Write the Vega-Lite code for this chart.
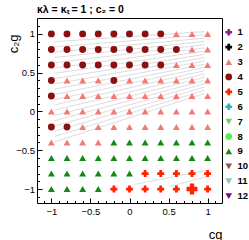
{
  "$schema": "https://vega.github.io/schema/vega-lite/v6.json",
  "width": 185,
  "height": 185,
  "autosize": {"type": "none"},
  "padding": {"left": 37, "top": 18, "right": 27, "bottom": 37},
  "background": "white",
  "title": {"text": "κλ = κₜ = 1 ; c₂ = 0", "anchor": "start", "frame": "group", "fontSize": 10.5, "fontWeight": "bold", "font": "Liberation Sans", "color": "black", "baseline": "alphabetic", "offset": -5.5},
  "datasets": {
    "hatch": [
      {"cg": -0.96, "c2g": 0.90, "cg2": 0.96, "c2g2": 1.03},
      {"cg": -0.96, "c2g": 0.832, "cg2": 0.96, "c2g2": 0.988},
      {"cg": -0.96, "c2g": 0.764, "cg2": 0.96, "c2g2": 0.946},
      {"cg": -0.96, "c2g": 0.696, "cg2": 0.96, "c2g2": 0.904},
      {"cg": -0.96, "c2g": 0.628, "cg2": 0.96, "c2g2": 0.862},
      {"cg": -0.96, "c2g": 0.56, "cg2": 0.96, "c2g2": 0.82},
      {"cg": -0.96, "c2g": 0.492, "cg2": 0.96, "c2g2": 0.778},
      {"cg": -0.96, "c2g": 0.424, "cg2": 0.96, "c2g2": 0.736},
      {"cg": -0.96, "c2g": 0.356, "cg2": 0.96, "c2g2": 0.694},
      {"cg": -0.96, "c2g": 0.288, "cg2": 0.96, "c2g2": 0.652},
      {"cg": -0.96, "c2g": 0.22, "cg2": 0.96, "c2g2": 0.61},
      {"cg": -0.96, "c2g": 0.152, "cg2": 0.96, "c2g2": 0.568},
      {"cg": -0.96, "c2g": 0.084, "cg2": 0.96, "c2g2": 0.526},
      {"cg": -0.96, "c2g": 0.016, "cg2": 0.96, "c2g2": 0.484},
      {"cg": -0.96, "c2g": -0.052, "cg2": 0.96, "c2g2": 0.442},
      {"cg": -0.96, "c2g": -0.12, "cg2": 0.96, "c2g2": 0.40},
      {"cg": -0.96, "c2g": -0.188, "cg2": 0.96, "c2g2": 0.358},
      {"cg": -0.96, "c2g": -0.256, "cg2": 0.96, "c2g2": 0.316},
      {"cg": -0.96, "c2g": -0.324, "cg2": 0.96, "c2g2": 0.274},
      {"cg": -0.96, "c2g": -0.392, "cg2": 0.96, "c2g2": 0.232},
      {"cg": 0.065, "c2g": -0.94, "cg2": 0.98, "c2g2": -0.76},
      {"cg": 0.51, "c2g": -0.97, "cg2": 0.98, "c2g2": -0.84}
    ],
    "points": [
      {"cg": -1, "c2g": 1, "cluster": "4", "benchmark": "no"},
      {"cg": -0.8, "c2g": 1, "cluster": "4", "benchmark": "no"},
      {"cg": -0.6, "c2g": 1, "cluster": "4", "benchmark": "no"},
      {"cg": -0.4, "c2g": 1, "cluster": "4", "benchmark": "no"},
      {"cg": -0.2, "c2g": 1, "cluster": "4", "benchmark": "no"},
      {"cg": 0, "c2g": 1, "cluster": "4", "benchmark": "no"},
      {"cg": 0.2, "c2g": 1, "cluster": "4", "benchmark": "no"},
      {"cg": 0.4, "c2g": 1, "cluster": "4", "benchmark": "no"},
      {"cg": 0.6, "c2g": 1, "cluster": "3", "benchmark": "no"},
      {"cg": 0.8, "c2g": 1, "cluster": "3", "benchmark": "no"},
      {"cg": 1, "c2g": 1, "cluster": "3", "benchmark": "no"},

      {"cg": -1, "c2g": 0.8, "cluster": "4", "benchmark": "no"},
      {"cg": -0.8, "c2g": 0.8, "cluster": "4", "benchmark": "no"},
      {"cg": -0.6, "c2g": 0.8, "cluster": "4", "benchmark": "no"},
      {"cg": -0.4, "c2g": 0.8, "cluster": "4", "benchmark": "no"},
      {"cg": -0.2, "c2g": 0.8, "cluster": "4", "benchmark": "no"},
      {"cg": 0, "c2g": 0.8, "cluster": "4", "benchmark": "no"},
      {"cg": 0.2, "c2g": 0.8, "cluster": "4", "benchmark": "no"},
      {"cg": 0.4, "c2g": 0.8, "cluster": "4", "benchmark": "no"},
      {"cg": 0.6, "c2g": 0.8, "cluster": "4", "benchmark": "no"},
      {"cg": 0.8, "c2g": 0.8, "cluster": "3", "benchmark": "no"},
      {"cg": 1, "c2g": 0.8, "cluster": "3", "benchmark": "no"},

      {"cg": -1, "c2g": 0.6, "cluster": "4", "benchmark": "no"},
      {"cg": -0.8, "c2g": 0.6, "cluster": "4", "benchmark": "no"},
      {"cg": -0.6, "c2g": 0.6, "cluster": "4", "benchmark": "no"},
      {"cg": -0.4, "c2g": 0.6, "cluster": "4", "benchmark": "no"},
      {"cg": -0.2, "c2g": 0.6, "cluster": "4", "benchmark": "no"},
      {"cg": 0, "c2g": 0.6, "cluster": "4", "benchmark": "no"},
      {"cg": 0.2, "c2g": 0.6, "cluster": "4", "benchmark": "no"},
      {"cg": 0.4, "c2g": 0.6, "cluster": "4", "benchmark": "no"},
      {"cg": 0.6, "c2g": 0.6, "cluster": "3", "benchmark": "no"},
      {"cg": 0.8, "c2g": 0.6, "cluster": "3", "benchmark": "no"},
      {"cg": 1, "c2g": 0.6, "cluster": "3", "benchmark": "no"},

      {"cg": -1, "c2g": 0.4, "cluster": "4", "benchmark": "no"},
      {"cg": -0.8, "c2g": 0.4, "cluster": "3", "benchmark": "no"},
      {"cg": -0.6, "c2g": 0.4, "cluster": "3", "benchmark": "no"},
      {"cg": -0.4, "c2g": 0.4, "cluster": "3", "benchmark": "no"},
      {"cg": -0.2, "c2g": 0.4, "cluster": "4", "benchmark": "no"},
      {"cg": 0, "c2g": 0.4, "cluster": "3", "benchmark": "no"},
      {"cg": 0.2, "c2g": 0.4, "cluster": "3", "benchmark": "no"},
      {"cg": 0.4, "c2g": 0.4, "cluster": "3", "benchmark": "no"},
      {"cg": 0.6, "c2g": 0.4, "cluster": "3", "benchmark": "no"},
      {"cg": 0.8, "c2g": 0.4, "cluster": "3", "benchmark": "no"},
      {"cg": 1, "c2g": 0.4, "cluster": "3", "benchmark": "no"},

      {"cg": -1, "c2g": 0.2, "cluster": "4", "benchmark": "no"},
      {"cg": -0.8, "c2g": 0.2, "cluster": "3", "benchmark": "no"},
      {"cg": -0.6, "c2g": 0.2, "cluster": "3", "benchmark": "no"},
      {"cg": -0.4, "c2g": 0.2, "cluster": "3", "benchmark": "no"},
      {"cg": -0.2, "c2g": 0.2, "cluster": "3", "benchmark": "no"},
      {"cg": 0, "c2g": 0.2, "cluster": "3", "benchmark": "no"},
      {"cg": 0.2, "c2g": 0.2, "cluster": "3", "benchmark": "no"},
      {"cg": 0.4, "c2g": 0.2, "cluster": "3", "benchmark": "no"},
      {"cg": 0.6, "c2g": 0.2, "cluster": "3", "benchmark": "no"},
      {"cg": 0.8, "c2g": 0.2, "cluster": "3", "benchmark": "no"},
      {"cg": 1, "c2g": 0.2, "cluster": "3", "benchmark": "no"},

      {"cg": -1, "c2g": 0, "cluster": "3", "benchmark": "no"},
      {"cg": -0.8, "c2g": 0, "cluster": "3", "benchmark": "no"},
      {"cg": -0.6, "c2g": 0, "cluster": "3", "benchmark": "no"},
      {"cg": -0.4, "c2g": 0, "cluster": "3", "benchmark": "no"},
      {"cg": -0.2, "c2g": 0, "cluster": "3", "benchmark": "no"},
      {"cg": 0, "c2g": 0, "cluster": "3", "benchmark": "no"},
      {"cg": 0.2, "c2g": 0, "cluster": "3", "benchmark": "no"},
      {"cg": 0.4, "c2g": 0, "cluster": "3", "benchmark": "no"},
      {"cg": 0.6, "c2g": 0, "cluster": "3", "benchmark": "no"},
      {"cg": 0.8, "c2g": 0, "cluster": "3", "benchmark": "no"},
      {"cg": 1, "c2g": 0, "cluster": "3", "benchmark": "no"},

      {"cg": -1, "c2g": -0.2, "cluster": "4", "benchmark": "no"},
      {"cg": -0.8, "c2g": -0.2, "cluster": "4", "benchmark": "no"},
      {"cg": -0.6, "c2g": -0.2, "cluster": "3", "benchmark": "no"},
      {"cg": -0.4, "c2g": -0.2, "cluster": "3", "benchmark": "no"},
      {"cg": -0.2, "c2g": -0.2, "cluster": "3", "benchmark": "no"},
      {"cg": 0, "c2g": -0.2, "cluster": "3", "benchmark": "no"},
      {"cg": 0.2, "c2g": -0.2, "cluster": "3", "benchmark": "no"},
      {"cg": 0.4, "c2g": -0.2, "cluster": "3", "benchmark": "no"},
      {"cg": 0.6, "c2g": -0.2, "cluster": "3", "benchmark": "no"},
      {"cg": 0.8, "c2g": -0.2, "cluster": "3", "benchmark": "no"},
      {"cg": 1, "c2g": -0.2, "cluster": "3", "benchmark": "no"},

      {"cg": -1, "c2g": -0.4, "cluster": "3", "benchmark": "no"},
      {"cg": -0.8, "c2g": -0.4, "cluster": "3", "benchmark": "no"},
      {"cg": -0.6, "c2g": -0.4, "cluster": "3", "benchmark": "no"},
      {"cg": -0.4, "c2g": -0.4, "cluster": "3", "benchmark": "no"},
      {"cg": -0.2, "c2g": -0.4, "cluster": "9", "benchmark": "no"},
      {"cg": 0, "c2g": -0.4, "cluster": "9", "benchmark": "no"},
      {"cg": 0.2, "c2g": -0.4, "cluster": "9", "benchmark": "no"},
      {"cg": 0.4, "c2g": -0.4, "cluster": "9", "benchmark": "no"},
      {"cg": 0.6, "c2g": -0.4, "cluster": "9", "benchmark": "no"},
      {"cg": 0.8, "c2g": -0.4, "cluster": "9", "benchmark": "no"},
      {"cg": 1, "c2g": -0.4, "cluster": "9", "benchmark": "no"},

      {"cg": -1, "c2g": -0.6, "cluster": "9", "benchmark": "no"},
      {"cg": -0.8, "c2g": -0.6, "cluster": "9", "benchmark": "no"},
      {"cg": -0.6, "c2g": -0.6, "cluster": "9", "benchmark": "no"},
      {"cg": -0.4, "c2g": -0.6, "cluster": "9", "benchmark": "no"},
      {"cg": -0.2, "c2g": -0.6, "cluster": "9", "benchmark": "no"},
      {"cg": 0, "c2g": -0.6, "cluster": "9", "benchmark": "no"},
      {"cg": 0.2, "c2g": -0.6, "cluster": "9", "benchmark": "no"},
      {"cg": 0.4, "c2g": -0.6, "cluster": "9", "benchmark": "no"},
      {"cg": 0.6, "c2g": -0.6, "cluster": "9", "benchmark": "no"},
      {"cg": 0.8, "c2g": -0.6, "cluster": "9", "benchmark": "no"},
      {"cg": 1, "c2g": -0.6, "cluster": "9", "benchmark": "no"},

      {"cg": -1, "c2g": -0.8, "cluster": "9", "benchmark": "no"},
      {"cg": -0.8, "c2g": -0.8, "cluster": "9", "benchmark": "no"},
      {"cg": -0.6, "c2g": -0.8, "cluster": "9", "benchmark": "no"},
      {"cg": -0.4, "c2g": -0.8, "cluster": "9", "benchmark": "no"},
      {"cg": -0.2, "c2g": -0.8, "cluster": "9", "benchmark": "no"},
      {"cg": 0, "c2g": -0.8, "cluster": "9", "benchmark": "no"},
      {"cg": 0.2, "c2g": -0.8, "cluster": "5", "benchmark": "no"},
      {"cg": 0.4, "c2g": -0.8, "cluster": "5", "benchmark": "no"},
      {"cg": 0.6, "c2g": -0.8, "cluster": "5", "benchmark": "no"},
      {"cg": 0.8, "c2g": -0.8, "cluster": "5", "benchmark": "no"},
      {"cg": 1, "c2g": -0.8, "cluster": "5", "benchmark": "no"},

      {"cg": -1, "c2g": -1, "cluster": "9", "benchmark": "no"},
      {"cg": -0.8, "c2g": -1, "cluster": "9", "benchmark": "no"},
      {"cg": -0.6, "c2g": -1, "cluster": "9", "benchmark": "no"},
      {"cg": -0.4, "c2g": -1, "cluster": "9", "benchmark": "no"},
      {"cg": -0.2, "c2g": -1, "cluster": "5", "benchmark": "no"},
      {"cg": 0, "c2g": -1, "cluster": "5", "benchmark": "no"},
      {"cg": 0.2, "c2g": -1, "cluster": "5", "benchmark": "no"},
      {"cg": 0.4, "c2g": -1, "cluster": "5", "benchmark": "no"},
      {"cg": 0.6, "c2g": -1, "cluster": "5", "benchmark": "no"},
      {"cg": 0.8, "c2g": -1, "cluster": "5", "benchmark": "yes"},
      {"cg": 1, "c2g": -1, "cluster": "5", "benchmark": "no"}
    ]
  },
  "encoding": {
    "x": {
      "field": "cg", "type": "quantitative",
      "scale": {"domain": [-1.184, 1.184], "nice": false, "zero": false},
      "axis": {
        "title": "cg",
        "values": [-1.1, -1, -0.9, -0.8, -0.7, -0.6, -0.5, -0.4, -0.3, -0.2, -0.1, 0, 0.1, 0.2, 0.3, 0.4, 0.5, 0.6, 0.7, 0.8, 0.9, 1, 1.1],
        "format": ".1~f",
        "labelExpr": "abs(datum.value*2 - round(datum.value*2)) < 0.01 ? datum.label : ''",
        "tickSize": {"condition": {"test": "abs(datum.value*2 - round(datum.value*2)) < 0.01", "value": -5}, "value": -2.5},
        "labelPadding": 8,
        "titleAnchor": "end", "titleAlign": "right", "titleBaseline": "alphabetic",
        "titleX": 185, "titleY": 35
      }
    },
    "y": {
      "field": "c2g", "type": "quantitative",
      "scale": {"domain": [-1.18, 1.205], "nice": false, "zero": false},
      "axis": {
        "title": "c₂g",
        "values": [-1.1, -1, -0.9, -0.8, -0.7, -0.6, -0.5, -0.4, -0.3, -0.2, -0.1, 0, 0.1, 0.2, 0.3, 0.4, 0.5, 0.6, 0.7, 0.8, 0.9, 1, 1.1],
        "format": ".1~f",
        "labelExpr": "abs(datum.value*2 - round(datum.value*2)) < 0.01 ? datum.label : ''",
        "tickSize": {"condition": {"test": "abs(datum.value*2 - round(datum.value*2)) < 0.01", "value": -5}, "value": -2.5},
        "labelPadding": 7.5,
        "titleAnchor": "end", "titleAlign": "right", "titleBaseline": "alphabetic", "titleAngle": -90,
        "titleX": -20, "titleY": 16
      }
    }
  },
  "layer": [
    {
      "data": {"name": "hatch"},
      "mark": {"type": "rule", "color": "#d8d8d8", "strokeWidth": 0.9},
      "encoding": {
        "x2": {"field": "cg2"},
        "y2": {"field": "c2g2"}
      }
    },
    {
      "data": {"name": "points"},
      "mark": {"type": "point", "filled": true, "opacity": 1, "strokeWidth": 0},
      "encoding": {
        "shape": {
          "field": "cluster", "type": "nominal",
          "scale": {"domain": ["1","2","3","4","5","6","7","8","9","10","11","12"],
                    "range": ["cross","cross","triangle-up","circle","cross","cross","triangle-down","circle","triangle-up","triangle-down","triangle-down","triangle-down"]}
        },
        "color": {
          "field": "cluster", "type": "nominal",
          "scale": {"domain": ["1","2","3","4","5","6","7","8","9","10","11","12"],
                    "range": ["#8e1e9a","#000000","#f47878","#8c1010","#ff2200","#22b5c4","#66d066","#55ee55","#138a13","#8b5a44","#88c8a8","#7a0a8c"]}
        },
        "size": {
          "field": "benchmark", "type": "nominal",
          "scale": {"domain": ["no", "yes"], "range": [48, 120]},
          "legend": null
        }
      }
    }
  ],
  "config": {
    "view": {"stroke": "black", "strokeWidth": 1},
    "axis": {
      "grid": false, "domain": false,
      "tickColor": "black", "tickWidth": 1,
      "labelFont": "Liberation Sans", "labelFontSize": 9.5, "labelColor": "black",
      "labelOverlap": false, "labelFlush": false, "labelBound": false,
      "titleFont": "Liberation Sans", "titleFontSize": 13, "titleFontWeight": "normal", "titleColor": "black"
    },
    "legend": {
      "orient": "none", "legendX": 187, "legendY": 9.5,
      "title": null, "padding": 0,
      "labelFont": "Liberation Sans", "labelFontWeight": "bold", "labelFontSize": 9.5, "labelColor": "black",
      "symbolSize": 45, "rowPadding": 3.9, "labelOffset": 4, "symbolStrokeWidth": 0
    }
  }
}
